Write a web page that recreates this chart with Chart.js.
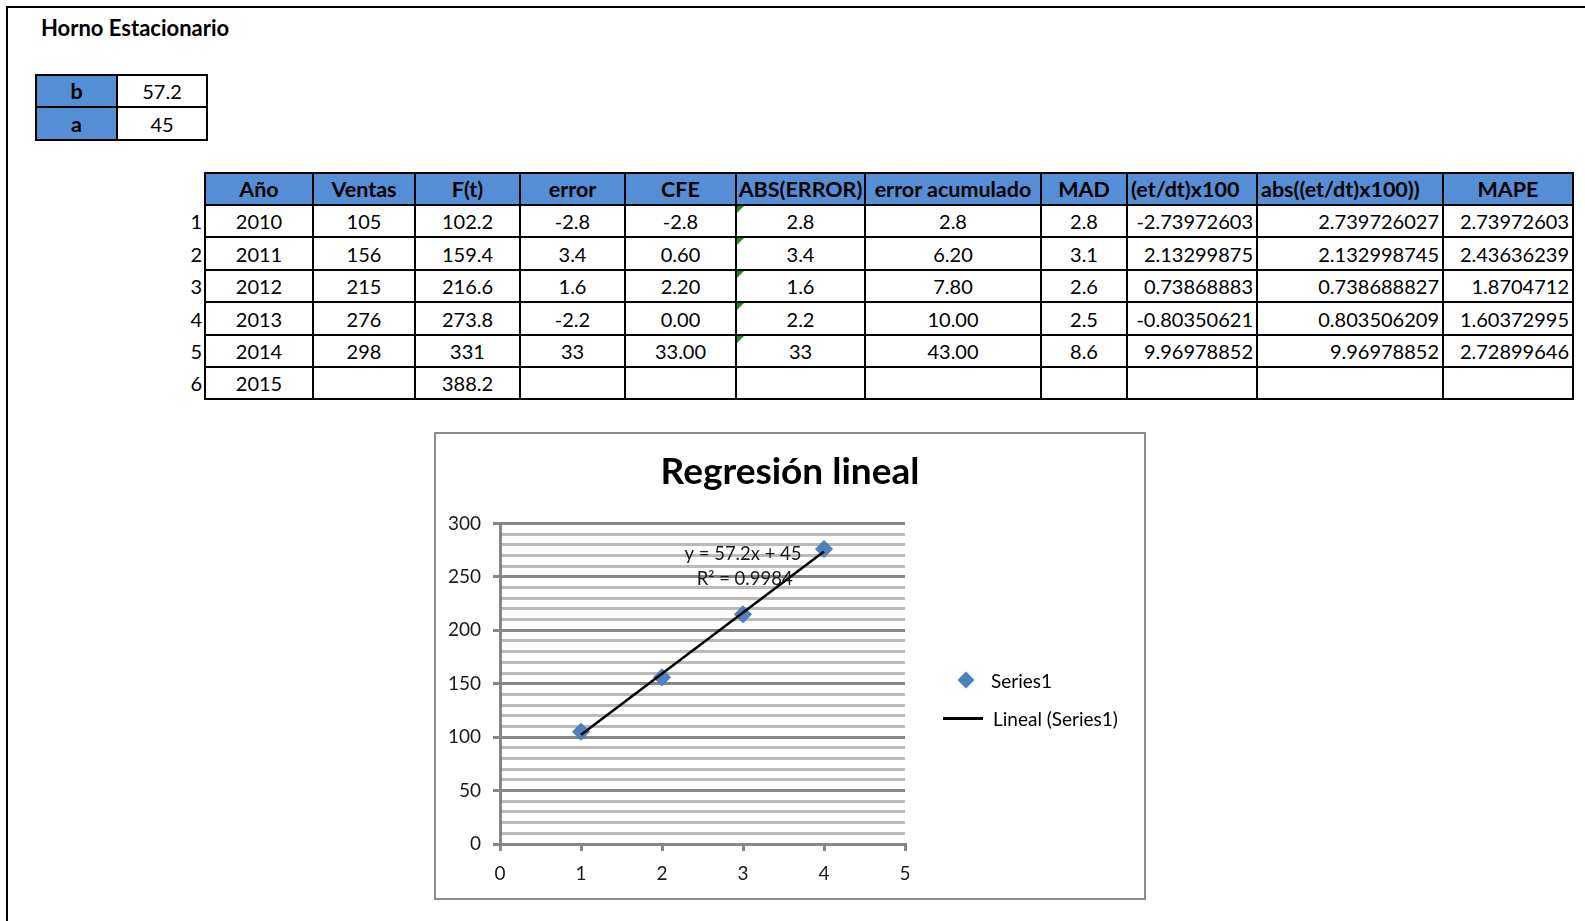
<!DOCTYPE html>
<html>
<head>
<meta charset="utf-8">
<script src="https://cdn.jsdelivr.net/npm/chart.js@4.4.1/dist/chart.umd.min.js"></script>
<style>
  html, body { margin: 0; padding: 0; background: #fff; }
  body { width: 1585px; height: 921px; position: relative; overflow: hidden; font-family: 'Lato', 'Liberation Sans', sans-serif; color: #000; }
  #frame { position: absolute; left: 6px; top: 6px; width: 1700px; height: 1000px; border-left: 2px solid #000; border-top: 2px solid #000; }
  #sheetTitle { position: absolute; left: 41px; top: 14px; font-weight: 700; font-size: 22px; line-height: 28px; white-space: nowrap; }
  .cell { position: absolute; box-sizing: border-box; border: 2px solid #000; display: flex; align-items: center; font-size: 20px; white-space: nowrap; overflow: visible; }
  .hdr { background: #558ed5; font-weight: 700; font-size: 21.5px; }
  .c { justify-content: center; }
  .r { justify-content: flex-end; padding-right: 3px; }
  .l { justify-content: flex-start; padding-left: 3px; }
  .rownum { position: absolute; font-size: 20px; text-align: right; width: 30px; display: flex; align-items: center; justify-content: flex-end; }
  .flag { position: absolute; left: 0; top: 0; width: 0; height: 0; border-top: 7px solid #1e8c1e; border-right: 7px solid transparent; }
  #chartBox { position: absolute; left: 434px; top: 432px; width: 712px; height: 468px; box-sizing: border-box; border: 2px solid #8c8c8c; background: #fff; }
  #chartBox canvas { position: absolute; left: 0; top: 0; }
  .lg { position: absolute; font-size: 19px; white-space: nowrap; display: flex; align-items: center; height: 24px; }
  #lgDiamond { position: absolute; width: 12px; height: 12px; background: #4f81bd; transform: rotate(45deg); }
  #lgLine { position: absolute; height: 3px; background: #000; }
</style>
</head>
<body>
<div id="frame"></div>
<div id="sheetTitle">Horno Estacionario</div>
<div id="tables"></div>
<div id="chartBox"><canvas id="chart" width="708" height="464"></canvas></div>
<div id="legend"></div>
<script>
// ---------- data ----------
const paramNames = ['b', 'a'];
const paramValues = ['57.2', '45'];

const headers = ['Año', 'Ventas', 'F(t)', 'error', 'CFE', 'ABS(ERROR)', 'error acumulado', 'MAD', '(et/dt)x100', 'abs((et/dt)x100))', 'MAPE'];
const rowNumbers = ['1', '2', '3', '4', '5', '6'];
const years = ['2010', '2011', '2012', '2013', '2014', '2015'];
const ventas = ['105', '156', '215', '276', '298', ''];
const forecast = ['102.2', '159.4', '216.6', '273.8', '331', '388.2'];
const errors = ['-2.8', '3.4', '1.6', '-2.2', '33', ''];
const cfe = ['-2.8', '0.60', '2.20', '0.00', '33.00', ''];
const absError = ['2.8', '3.4', '1.6', '2.2', '33', ''];
const errorAcum = ['2.8', '6.20', '7.80', '10.00', '43.00', ''];
const mad = ['2.8', '3.1', '2.6', '2.5', '8.6', ''];
const pctError = ['-2.73972603', '2.13299875', '0.73868883', '-0.80350621', '9.96978852', ''];
const absPctError = ['2.739726027', '2.132998745', '0.738688827', '0.803506209', '9.96978852', ''];
const mape = ['2.73972603', '2.43636239', '1.8704712', '1.60372995', '2.72899646', ''];

// chart series
const chartTitle = 'Regresión lineal';
const seriesX = [1, 2, 3, 4];
const seriesY = [105, 156, 215, 276];
const trendX = [1, 4];
const trendY = [102.2, 273.8];
const xTickLabels = [0, 1, 2, 3, 4, 5];
const yTickLabels = [0, 50, 100, 150, 200, 250, 300];
const equationLines = ['y = 57.2x + 45', 'R² = 0.9984'];
const legendLabels = ['Series1', 'Lineal (Series1)'];

// ---------- tables ----------
const root = document.getElementById('tables');
function cell(x0, y0, x1, y1, text, cls) {
  const d = document.createElement('div');
  d.className = 'cell ' + cls;
  d.style.left = (x0 - 1) + 'px';
  d.style.top = (y0 - 1) + 'px';
  d.style.width = (x1 - x0 + 2) + 'px';
  d.style.height = (y1 - y0 + 2) + 'px';
  d.textContent = text;
  root.appendChild(d);
  return d;
}
// parameter table
const pCols = [36, 117, 207];
const pRows = [75, 107, 140];
paramNames.forEach((n, i) => {
  cell(pCols[0], pRows[i], pCols[1], pRows[i + 1], n, 'hdr c');
  cell(pCols[1], pRows[i], pCols[2], pRows[i + 1], paramValues[i], 'c');
});
// main table
const cols = [205, 313, 415, 520, 625, 736, 865, 1041, 1127, 1257, 1443, 1573];
const rows = [173, 205, 237, 270, 302, 335, 367, 399];
const hdrAlign = ['c', 'c', 'c', 'c', 'c', 'c', 'c', 'c', 'l', 'l', 'c'];
const dataAlign = ['c', 'c', 'c', 'c', 'c', 'c', 'c', 'c', 'r', 'r', 'r'];
headers.forEach((h, j) => cell(cols[j], rows[0], cols[j + 1], rows[1], h, 'hdr ' + hdrAlign[j]));
const columns = [years, ventas, forecast, errors, cfe, absError, errorAcum, mad, pctError, absPctError, mape];
rowNumbers.forEach((rn, i) => {
  const rl = document.createElement('div');
  rl.className = 'rownum';
  rl.style.left = (cols[0] - 33) + 'px';
  rl.style.top = rows[i + 1] + 'px';
  rl.style.height = (rows[i + 2] - rows[i + 1]) + 'px';
  rl.textContent = rn;
  root.appendChild(rl);
  columns.forEach((col, j) => {
    const d = cell(cols[j], rows[i + 1], cols[j + 1], rows[i + 2], col[i], dataAlign[j]);
    if (j === 5 && col[i] !== '') {
      const f = document.createElement('div');
      f.className = 'flag';
      d.appendChild(f);
    }
  });
});

// ---------- legend (html) ----------
const lg = document.getElementById('legend');
const dia = document.createElement('div'); dia.id = 'lgDiamond';
dia.style.left = (966 - 6) + 'px'; dia.style.top = (680 - 6) + 'px';
lg.appendChild(dia);
const t1 = document.createElement('div'); t1.className = 'lg';
t1.style.left = '991px'; t1.style.top = (680 - 12) + 'px'; t1.textContent = legendLabels[0];
lg.appendChild(t1);
const ln = document.createElement('div'); ln.id = 'lgLine';
ln.style.left = '943px'; ln.style.top = (718 - 1) + 'px'; ln.style.width = '40px';
lg.appendChild(ln);
const t2 = document.createElement('div'); t2.className = 'lg';
t2.style.left = '993px'; t2.style.top = (718 - 12) + 'px'; t2.textContent = legendLabels[1];
lg.appendChild(t2);

// ---------- chart ----------
const MAJOR = '#878787';
const MINOR = '#bababa';
const isMajor = v => yTickLabels.includes(v);

const equationPlugin = {
  id: 'equationLabel',
  afterDatasetsDraw(chart) {
    const { ctx, scales } = chart;
    ctx.save();
    ctx.fillStyle = '#1a1a1a';
    ctx.font = '18.5px Lato';
    ctx.textAlign = 'center';
    ctx.textBaseline = 'middle';
    ctx.fillText(equationLines[0], scales.x.getPixelForValue(3.0), scales.y.getPixelForValue(271));
    ctx.fillText(equationLines[1], scales.x.getPixelForValue(3.02), scales.y.getPixelForValue(248));
    ctx.restore();
  }
};

// center the title over the whole chart box (the html legend occupies the right padding)
const titleSpanPlugin = {
  id: 'titleSpan',
  afterLayout(chart) {
    const tb = chart.titleBlock;
    if (tb) { tb.left = 0; tb.right = chart.width; tb.width = chart.width; }
  }
};

new Chart(document.getElementById('chart'), {
  type: 'scatter',
  data: {
    datasets: [
      {
        label: legendLabels[1],
        type: 'line',
        data: trendX.map((x, i) => ({ x, y: trendY[i] })),
        borderColor: '#000',
        borderWidth: 2.5,
        pointRadius: 0,
        fill: false,
        order: 0
      },
      {
        label: legendLabels[0],
        data: seriesX.map((x, i) => ({ x, y: seriesY[i] })),
        pointStyle: 'rectRot',
        pointRadius: 8.5,
        pointHoverRadius: 8.5,
        backgroundColor: '#4f81bd',
        borderColor: '#4677b2',
        borderWidth: 1,
        order: 1
      }
    ]
  },
  options: {
    responsive: false,
    animation: false,
    devicePixelRatio: 1,
    layout: { padding: { left: 0, right: 239, top: 0, bottom: 0 } },
    plugins: {
      legend: { display: false },
      tooltip: { enabled: false },
      title: {
        display: true,
        text: chartTitle,
        color: '#000',
        font: { family: 'Lato', size: 37, weight: 'bold', lineHeight: 1.2 },
        padding: { top: 16, bottom: 29 }
      }
    },
    scales: {
      x: {
        type: 'linear',
        min: 0,
        max: 5,
        afterFit: s => { s.height = 54; },
        ticks: {
          stepSize: 1,
          padding: 11,
          color: '#1a1a1a',
          font: { family: 'Lato', size: 19 },
          callback: v => xTickLabels.includes(v) ? String(v) : ''
        },
        grid: { drawOnChartArea: false, drawTicks: true, tickLength: 7, color: MAJOR, lineWidth: 3 },
        border: { display: true, color: MAJOR, width: 3 }
      },
      y: {
        min: 0,
        max: 300,
        afterFit: s => { s.width = 64; },
        ticks: {
          stepSize: 10,
          padding: 12,
          color: '#1a1a1a',
          font: { family: 'Lato', size: 19 },
          autoSkip: false,
          callback: v => isMajor(v) ? String(v) : ''
        },
        grid: {
          drawTicks: true,
          tickLength: 7,
          color: c => isMajor(c.tick.value) ? MAJOR : MINOR,
          tickColor: c => isMajor(c.tick.value) ? MAJOR : 'rgba(0,0,0,0)',
          lineWidth: c => 3
        },
        border: { display: true, color: MAJOR, width: 3 }
      }
    }
  },
  plugins: [equationPlugin, titleSpanPlugin]
});
</script>
</body>
</html>
